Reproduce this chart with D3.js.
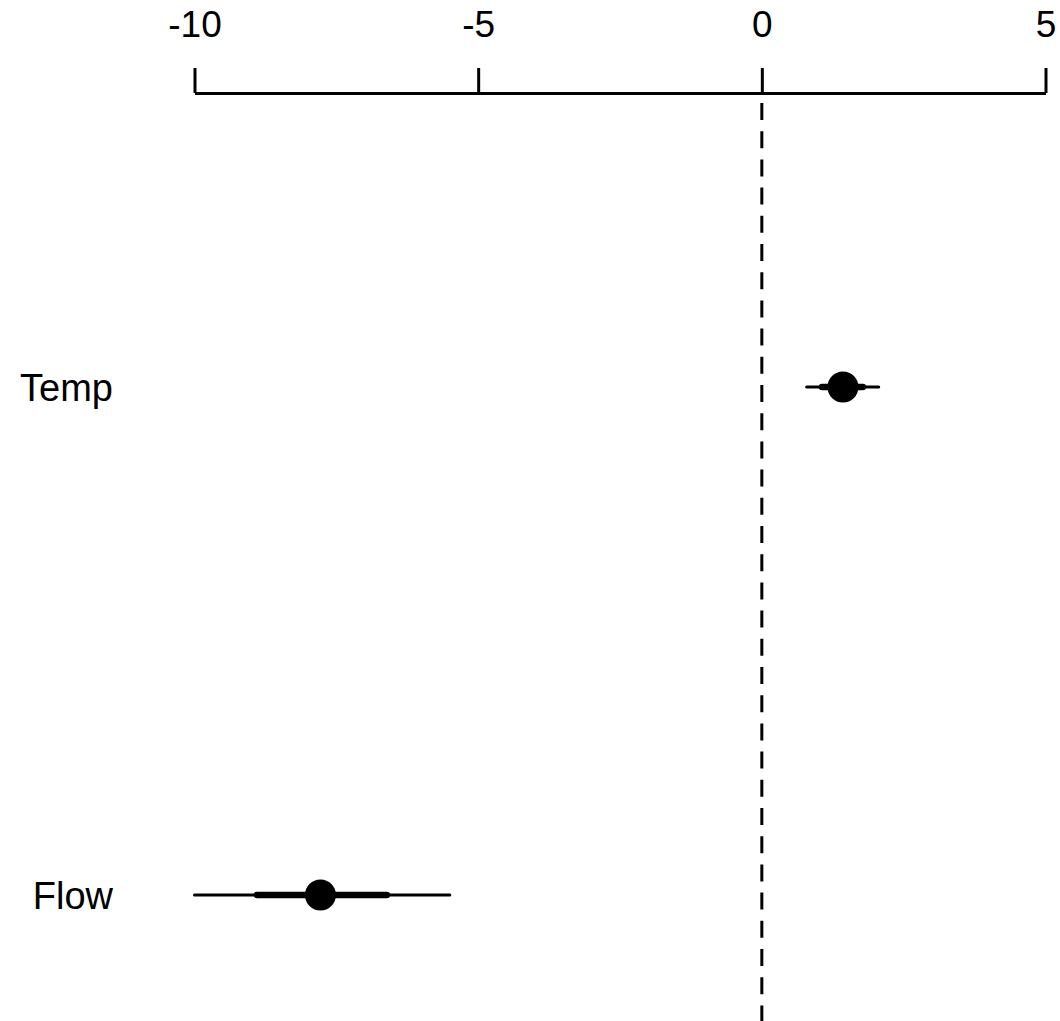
<!DOCTYPE html>
<html>
<head>
<meta charset="utf-8">
<script src="https://cdn.jsdelivr.net/npm/d3@7"></script>
<style>
  body { margin: 0; background: #fff; }
  svg { display: block; font-family: "Liberation Sans", Arial, sans-serif; }
</style>
</head>
<body>
<svg width="1060" height="1021"></svg>
<script>
// data
var terms = ["Temp", "Flow"];
var estimate = [1.43, -7.78];
var innerLow = [1.06, -8.90];
var innerHigh = [1.78, -6.61];
var outerLow = [0.79, -10.0];
var outerHigh = [2.06, -5.50];
var tickVals = [-10, -5, 0, 5];

var width = 1060, height = 1021;
var axisY = 93;

var svg = d3.select("svg");

var xScale = d3.scaleLinear()
    .domain([-10, 5])
    .range([194.5, 1045.5]);

var yScale = d3.scalePoint()
    .domain(terms)
    .range([387, 895]);

var rows = terms.map((t, i) => ({
  term: t, est: estimate[i],
  lo1: innerLow[i], hi1: innerHigh[i],
  lo2: outerLow[i], hi2: outerHigh[i]
}));

// zero reference line
svg.append("line")
    .attr("x1", xScale(0)).attr("x2", xScale(0))
    .attr("y1", 103).attr("y2", height)
    .attr("stroke", "#000")
    .attr("stroke-width", 3)
    .attr("stroke-dasharray", "17,11.2");

// top axis
var xAxis = d3.axisTop(xScale)
    .tickValues(tickVals)
    .tickSize(25)
    .tickSizeOuter(0)
    .tickPadding(31)
    .tickFormat(d3.format("d"));

var gx = svg.append("g")
    .attr("transform", `translate(0, ${axisY})`)
    .call(xAxis);
gx.select(".domain").attr("stroke-width", 3).attr("stroke", "#000");
gx.selectAll(".tick line").attr("stroke-width", 3).attr("stroke", "#000");
gx.selectAll(".tick text")
    .attr("font-size", 37)
    .attr("font-family", "Liberation Sans, Arial, sans-serif")
    .attr("fill", "#000")
    .text(d => d < 0 ? "-" + Math.abs(d) : d);

// row labels
svg.selectAll(".label")
  .data(rows)
  .enter()
  .append("text")
    .attr("class", "label")
    .attr("x", 113)
    .attr("y", d => yScale(d.term))
    .attr("dy", "0.36em")
    .attr("text-anchor", "end")
    .attr("font-size", 38)
    .text(d => d.term);

// outer interval
svg.selectAll(".outer")
  .data(rows)
  .enter()
  .append("line")
    .attr("x1", d => xScale(d.lo2))
    .attr("x2", d => xScale(d.hi2))
    .attr("y1", d => yScale(d.term))
    .attr("y2", d => yScale(d.term))
    .attr("stroke", "#000")
    .attr("stroke-width", 3)
    .attr("stroke-linecap", "round");

// inner interval
svg.selectAll(".inner")
  .data(rows)
  .enter()
  .append("line")
    .attr("x1", d => xScale(d.lo1))
    .attr("x2", d => xScale(d.hi1))
    .attr("y1", d => yScale(d.term))
    .attr("y2", d => yScale(d.term))
    .attr("stroke", "#000")
    .attr("stroke-width", 6.5)
    .attr("stroke-linecap", "round");

// point estimates
svg.selectAll(".pt")
  .data(rows)
  .enter()
  .append("circle")
    .attr("cx", d => xScale(d.est))
    .attr("cy", d => yScale(d.term))
    .attr("r", 15.5)
    .attr("fill", "#000");
</script>
</body>
</html>
